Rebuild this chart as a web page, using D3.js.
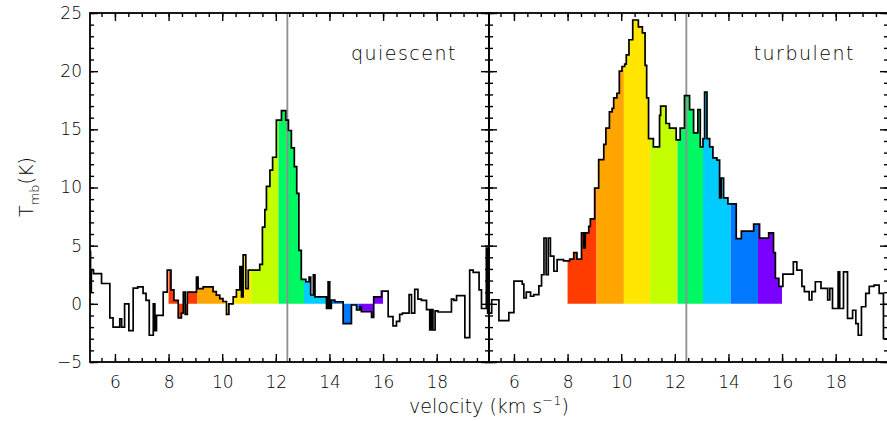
<!DOCTYPE html>
<html>
<head>
<meta charset="utf-8">
<script src="https://cdn.jsdelivr.net/npm/d3@7"></script>
<style>
  body { margin: 0; background: #fff; }
  text { font-family: "DejaVu Sans", sans-serif; font-weight: 200; fill: #000; }
</style>
</head>
<body>
<script>
// *** data ***
// left edge of each spectral step (km/s) and T_mb (K)
var quiescentVel = [5.07, 5.09, 5.12, 5.20, 5.50, 5.81, 5.93, 6.18, 6.25, 6.36, 6.52, 6.68, 6.85, 7.05, 7.16, 7.28,
  7.43, 7.49, 7.55, 7.80, 7.95, 8.09, 8.20, 8.36, 8.48, 8.55, 8.62, 8.70, 9.04, 9.10, 9.29, 9.66, 9.78, 9.91,
  10.03, 10.16, 10.25, 10.41, 10.53, 10.66, 10.72, 10.78, 10.88, 10.97, 11.40, 11.50, 11.59, 11.65, 11.78, 11.88,
  12.02, 12.21, 12.37, 12.47, 12.58, 12.69, 12.78, 12.86, 12.95, 13.12, 13.24, 13.30, 13.40, 13.46, 13.89, 13.95,
  14.01, 14.07, 14.20, 14.51, 14.82, 15.01, 15.13, 15.19, 15.57, 15.65, 15.94, 16.19, 16.37, 16.50, 16.62, 16.72,
  16.97, 17.06, 17.18, 17.30, 17.43, 17.62, 17.74, 17.80, 17.86, 17.94, 18.05, 18.55, 18.64, 18.74, 19.05, 19.23,
  19.36, 19.58, 19.67, 19.85, 19.90];
var quiescentTmb = [4.5, 1.0, 2.9, 2.6, 1.75, -1.2, -2.0, -1.3, -2.0, 0.0, -2.3, 1.35, 1.45, 0.9, 0.3, -2.7,
  0.0, -2.3, -1.0, 1.0, 2.9, 1.2, 0.3, -1.2, -0.8, 1.0, -0.9, 1.0, 2.3, 1.3, 1.45, 1.05, 0.75, 0.45,
  0.2, -0.9, 0.0, 0.6, 1.2, 3.2, 0.6, 4.2, 1.3, 2.9, 3.4, 6.6, 8.1, 10.1, 11.5, 12.6,
  15.8, 16.6, 15.8, 14.9, 13.4, 11.8, 9.5, 4.6, 2.1, 1.9, 2.3, 0.76, 2.5, 0.6, -0.4, 1.9,
  -0.4, 0.33, 0.18, -1.7, -0.1, -0.53, -0.25, -0.68, -1.16, 0.6, 1.1, -1.1, -1.9, -1.5, -0.9, -0.8,
  0.8, -0.8, 1.25, 0.4, 0.3, -0.5, -2.25, -0.5, -2.25, -0.6, -0.7, 0.4, 0.3, 0.7, -2.9, 2.9,
  2.7, 1.2, -0.4, 4.8, -0.8];

var turbulentVel = [5.07, 5.17, 5.44, 5.81, 6.00, 6.31, 6.37, 6.46, 6.62, 6.74, 6.93, 7.03, 7.12, 7.20, 7.28, 7.36,
  7.49, 7.61, 7.85, 8.08, 8.23, 8.35, 8.52, 8.60, 8.66, 8.79, 8.85, 9.01, 9.16, 9.35, 9.43, 9.56, 9.66, 9.72,
  9.84, 9.93, 10.03, 10.13, 10.19, 10.29, 10.43, 10.64, 10.79, 10.89, 10.95, 11.02, 11.20, 11.43, 11.47, 11.67,
  11.80, 12.05, 12.20, 12.36, 12.55, 12.70, 12.86, 12.95, 13.05, 13.11, 13.20, 13.30, 13.42, 13.57, 13.67, 13.73,
  13.82, 13.98, 14.29, 14.48, 14.94, 15.16, 15.50, 15.68, 15.75, 15.88, 16.03, 16.42, 16.55, 16.74, 16.83, 17.01,
  17.11, 17.24, 17.45, 17.70, 17.78, 17.88, 18.09, 18.15, 18.29, 18.44, 18.63, 18.75, 18.84, 18.96, 19.12, 19.25,
  19.43, 19.62, 19.78];
var turbulentTmb = [-0.8, 0.35, -1.45, -0.75, 1.95, 1.7, 0.5, 1.0, 0.65, 0.8, 1.55, 2.5, 5.65, 2.5, 5.65, 4.1,
  2.8, 3.8, 3.7, 3.85, 4.4, 3.85, 6.1, 4.8, 6.1, 6.65, 7.3, 9.95, 12.4, 13.7, 15.1, 16.5, 16.8, 17.7,
  18.1, 20.0, 20.4, 20.6, 21.4, 22.7, 24.4, 23.8, 23.3, 20.5, 17.7, 14.2, 13.5, 16.2, 17.0, 15.5,
  15.1, 14.1, 15.1, 17.9, 16.7, 14.7, 16.7, 13.5, 14.2, 18.2, 14.2, 13.5, 12.55, 12.35, 9.1, 10.8,
  9.1, 8.6, 5.6, 6.25, 6.85, 5.65, 6.1, 4.4, 2.2, 1.5, 2.55, 3.6, 2.9, 1.5, 1.05, 0.33,
  1.05, 1.9, 1.33, 0.33, 1.33, -0.4, 2.75, -0.4, 2.75, -1.25, -0.55, -1.7, -2.7, -0.25, 0.9, 1.5,
  1.6, 0.9, -3.0];

var velRange = [5.07, 19.95];        // plotted velocity range
var tmbRange = [-5, 25];             // plotted T_mb range
var xMajorTicks = [6, 8, 10, 12, 14, 16, 18];
var yMajorTicks = [-5, 0, 5, 10, 15, 20, 25];
var bandEdges = [8.0, 9.08, 10.1, 11.08, 12.1, 13.05, 14.08, 15.1, 16.0];
var bandColors = ["#ff3c00", "#ffa500", "#ffe600", "#c4ff00", "#00f862", "#00ccff", "#0078ff", "#7a00ff"];
var refVelocity = 12.43;
var panelNames = ["quiescent", "turbulent"];

// *** layout ***
var w = 887, h = 421;
var plotTop = 13, plotBottom = 362;
var panelX = [[90, 489], [489, 888]];

var svg = d3.select("body").append("svg")
  .attr("width", w)
  .attr("height", h);

var panels = [
  {vel: quiescentVel, tmb: quiescentTmb},
  {vel: turbulentVel, tmb: turbulentTmb}
];

panels.forEach(function(p, i){
  var x = d3.scaleLinear().domain(velRange).range(panelX[i]);
  var y = d3.scaleLinear().domain(tmbRange).range([plotBottom, plotTop]);

  // step data, closed with the last value at the right edge
  var data = p.vel.map(function(v, j){ return {v: v, t: p.tmb[j]}; });
  data.push({v: velRange[1], t: p.tmb[p.tmb.length - 1]});

  var g = svg.append("g").attr("class", "panel" + i);
  var defs = g.append("defs");

  var area = d3.area()
    .curve(d3.curveStepAfter)
    .x(function(d){ return x(d.v); })
    .y0(y(0))
    .y1(function(d){ return y(d.t); });

  // coloured velocity bands
  bandColors.forEach(function(c, k){
    var id = "band" + i + "_" + k;
    defs.append("clipPath").attr("id", id)
      .append("rect")
      .attr("x", x(bandEdges[k]))
      .attr("y", plotTop)
      .attr("width", x(bandEdges[k + 1]) - x(bandEdges[k]))
      .attr("height", plotBottom - plotTop);
    g.append("path")
      .datum(data)
      .attr("clip-path", "url(#" + id + ")")
      .attr("d", area)
      .style("fill", c)
      .style("stroke", "none");
  });

  // reference velocity line
  g.append("line")
    .attr("x1", x(refVelocity)).attr("x2", x(refVelocity))
    .attr("y1", plotTop).attr("y2", plotBottom)
    .style("stroke", "#8f8f8f")
    .style("stroke-width", 1.8);

  // spectrum
  defs.append("clipPath").attr("id", "frame" + i)
    .append("rect")
    .attr("x", panelX[i][0]).attr("y", plotTop)
    .attr("width", panelX[i][1] - panelX[i][0]).attr("height", plotBottom - plotTop);

  var line = d3.line()
    .curve(d3.curveStepAfter)
    .x(function(d){ return x(d.v); })
    .y(function(d){ return y(d.t); });

  g.append("path")
    .datum(data)
    .attr("clip-path", "url(#frame" + i + ")")
    .attr("d", line)
    .style("fill", "none")
    .style("stroke", "#000")
    .style("stroke-width", 1.7)
    .style("stroke-linejoin", "miter");

  // ticks (all pointing inward)
  var xMinor = x.ticks(30), yMinor = y.ticks(30);

  function addAxis(axis, tx, ty, labels){
    var a = g.append("g")
      .attr("transform", "translate(" + tx + "," + ty + ")")
      .call(axis);
    a.select(".domain").remove();
    a.selectAll("line").style("stroke", "#000").style("stroke-width", 1.4);
    if(!labels) a.selectAll("text").remove();
    return a;
  }

  addAxis(d3.axisBottom(x).tickValues(xMinor).tickSize(-4).tickFormat(""), 0, plotBottom, false);
  addAxis(d3.axisTop(x).tickValues(xMinor).tickSize(-4).tickFormat(""), 0, plotTop, false);
  addAxis(d3.axisLeft(y).tickValues(yMinor).tickSize(-4).tickFormat(""), panelX[i][0], 0, false);
  addAxis(d3.axisRight(y).tickValues(yMinor).tickSize(-4).tickFormat(""), panelX[i][1], 0, false);

  var xb = addAxis(d3.axisBottom(x).tickValues(xMajorTicks).tickSize(-8).tickPadding(14), 0, plotBottom, true);
  addAxis(d3.axisTop(x).tickValues(xMajorTicks).tickSize(-8), 0, plotTop, false);
  var yl = addAxis(d3.axisLeft(y).tickValues(yMajorTicks).tickSize(-8).tickPadding(8), panelX[i][0], 0, i === 0);
  addAxis(d3.axisRight(y).tickValues(yMajorTicks).tickSize(-8), panelX[i][1], 0, false);

  xb.selectAll("text").style("font-size", "17px");
  yl.selectAll("text").style("font-size", "17px");
  xb.attr("font-family", null);
  yl.attr("font-family", null);

  // frame
  g.append("rect")
    .attr("x", panelX[i][0]).attr("y", plotTop)
    .attr("width", panelX[i][1] - panelX[i][0]).attr("height", plotBottom - plotTop)
    .style("fill", "none")
    .style("stroke", "#000")
    .style("stroke-width", 1.8);

  // panel name
  g.append("text")
    .attr("x", panelX[i][0] + (i === 0 ? 367 : 366))
    .attr("y", 60)
    .attr("text-anchor", "end")
    .style("font-size", "19px")
    .style("letter-spacing", "1.5px")
    .text(panelNames[i]);
});

// axis titles
var xTitle = svg.append("text")
  .attr("x", 489)
  .attr("y", 413)
  .attr("text-anchor", "middle")
  .style("font-size", "19px");
xTitle.append("tspan").text("velocity (km s");
xTitle.append("tspan").attr("dy", -8).style("font-size", "13px").text("\u22121");
xTitle.append("tspan").attr("dy", 8).text(")");

var yTitle = svg.append("text")
  .attr("transform", "translate(33,187) rotate(-90)")
  .attr("text-anchor", "middle")
  .style("font-size", "19px");
yTitle.append("tspan").text("T");
yTitle.append("tspan").attr("dy", 6).style("font-size", "13px").text("mb");
yTitle.append("tspan").attr("dy", -6).text("(K)");
</script>
</body>
</html>
